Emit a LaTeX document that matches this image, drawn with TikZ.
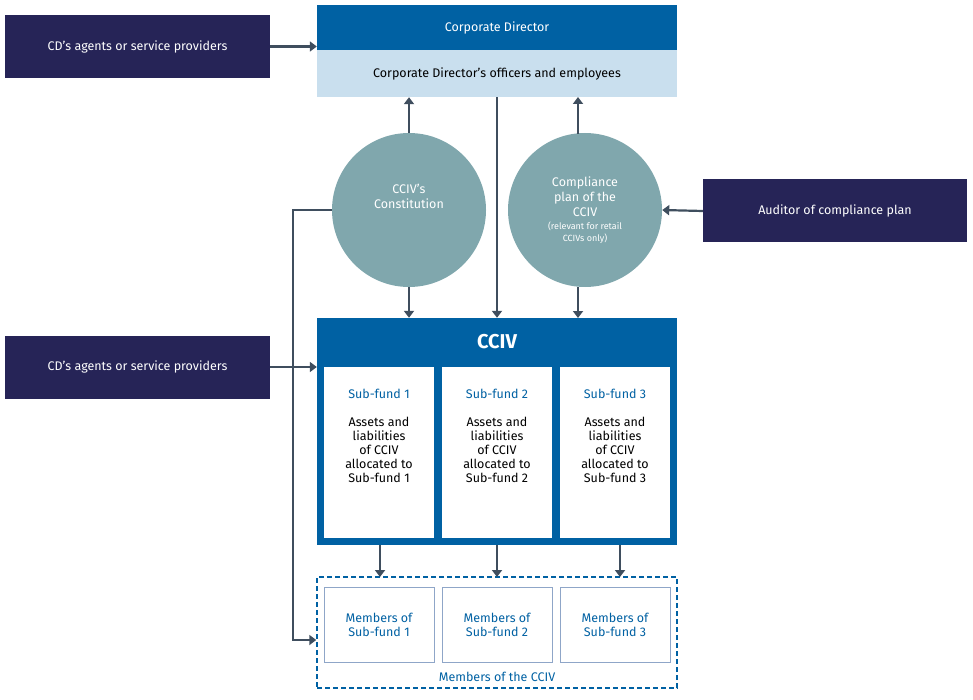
\documentclass[tikz,border=0pt]{standalone}
\usepackage{fontspec}
\setmainfont{Fira Sans}
\usetikzlibrary{arrows.meta}
\definecolor{navy}{HTML}{262457}
\definecolor{cblue}{HTML}{0061A3}
\definecolor{lblue}{HTML}{C9DFEE}
\definecolor{teal}{HTML}{80A7AD}
\definecolor{arr}{HTML}{3F4E5E}
\definecolor{mblue}{HTML}{8FA6C8}
\begin{document}
\begin{tikzpicture}[x=1pt,y=-1pt,
  ar/.style={draw=arr,line width=2.2pt,-{Triangle[length=7pt,width=10pt]}},
  navybox/.style={fill=navy,text=white,font=\fontsize{12.5}{15}\selectfont,minimum width=265pt,minimum height=63pt,inner sep=0pt},
  circ/.style={circle,fill=teal,text=white,minimum size=154pt,inner sep=0pt,align=center,font=\fontsize{12.5}{15}\selectfont},
  sub/.style={fill=white,minimum width=110pt,minimum height=171pt,inner sep=0pt,anchor=north},
  mem/.style={draw=mblue,line width=0.8pt,fill=white,text=cblue,minimum width=110pt,minimum height=75pt,inner sep=0pt,align=center,font=\fontsize{12.5}{15}\selectfont,anchor=north}]
\useasboundingbox (0,0) rectangle (973,700);
\node[navybox] (ag1) at (137.5,46.5) {CD’s agents or service providers};
\node[navybox] (ag2) at (137.5,367) {CD’s agents or service providers};
\node[navybox,minimum width=264pt] (aud) at (835,211) {Auditor of compliance plan};
\node[fill=cblue,text=white,minimum width=360pt,minimum height=45pt,inner sep=0pt,font=\fontsize{12.5}{15}\selectfont] (cd) at (497,27.5) {Corporate Director};
\node[fill=lblue,text=black,minimum width=360pt,minimum height=47pt,inner sep=0pt,font=\fontsize{12.5}{15}\selectfont] (off) at (497,73.5) {Corporate Director’s officers and employees};
\node[circ] (con) at (409,210) {CCIV’s\\Constitution\\[12pt]};
\node[circ] (cp) at (585,210) {Compliance\\plan of the\\CCIV\\[-2pt]{\fontsize{9}{10.5}\selectfont (relevant for retail}\\[-3pt]{\fontsize{9}{10.5}\selectfont CCIVs only)}};
\node[fill=cblue,minimum width=360pt,minimum height=227pt,inner sep=0pt] (cciv) at (497,431.5) {};
\node[text=white,font=\bfseries\fontsize{20}{24}\selectfont] (ct) at (497,342) {CCIV};
\foreach \i/\x in {1/379,2/497,3/615}{
  \node[sub] (s\i) at (\x,367) {};
  \node[text=cblue,font=\fontsize{12.5}{15}\selectfont] (st\i) at (\x,394) {Sub-fund \i};
  \node[align=center,font=\fontsize{12.5}{15}\selectfont,text=black,anchor=north] (sd\i) at (\x,414) {Assets and\\[-1pt]liabilities\\[-1pt]of CCIV\\[-1pt]allocated to\\[-1pt]Sub-fund \i};
}
\node[draw=cblue,dashed,line width=1.5pt,dash pattern=on 5pt off 3pt,minimum width=360pt,minimum height=111pt,inner sep=0pt] (mb) at (497,632.5) {};
\foreach \i/\x in {1/379,2/497,3/615}{
  \node[mem] (m\i) at (\x,587) {Members of\\[-1pt]Sub-fund \i};
}
\node[text=cblue,font=\fontsize{12.5}{15}\selectfont] (ml) at (497,677) {Members of the CCIV};
% arrows
\draw[ar] (ag1.east) -- (ag1.east -| cd.west);
\draw[ar] (ag2.east) -- (ag2.east -| cciv.west);
\draw[ar] (aud.west) -- (cp.east);
\draw[ar] (con.north) -- (con.north |- off.south);
\draw[ar] (578,134) -- (578,97);
\draw[ar] (con.south) -- (con.south |- cciv.north);
\draw[ar] (578,287) -- (578,318);
\draw[ar] (off.south) -- (cciv.north);
\foreach \x in {380,497,620}{\draw[ar] (\x,545) -- (\x,577);}
\coordinate (c1) at (293,210);
\coordinate (c2) at (293,640);
\draw[ar] (con.west) -- (c1) -- (c2) -- (c2 -| mb.west);
\end{tikzpicture}
\end{document}
